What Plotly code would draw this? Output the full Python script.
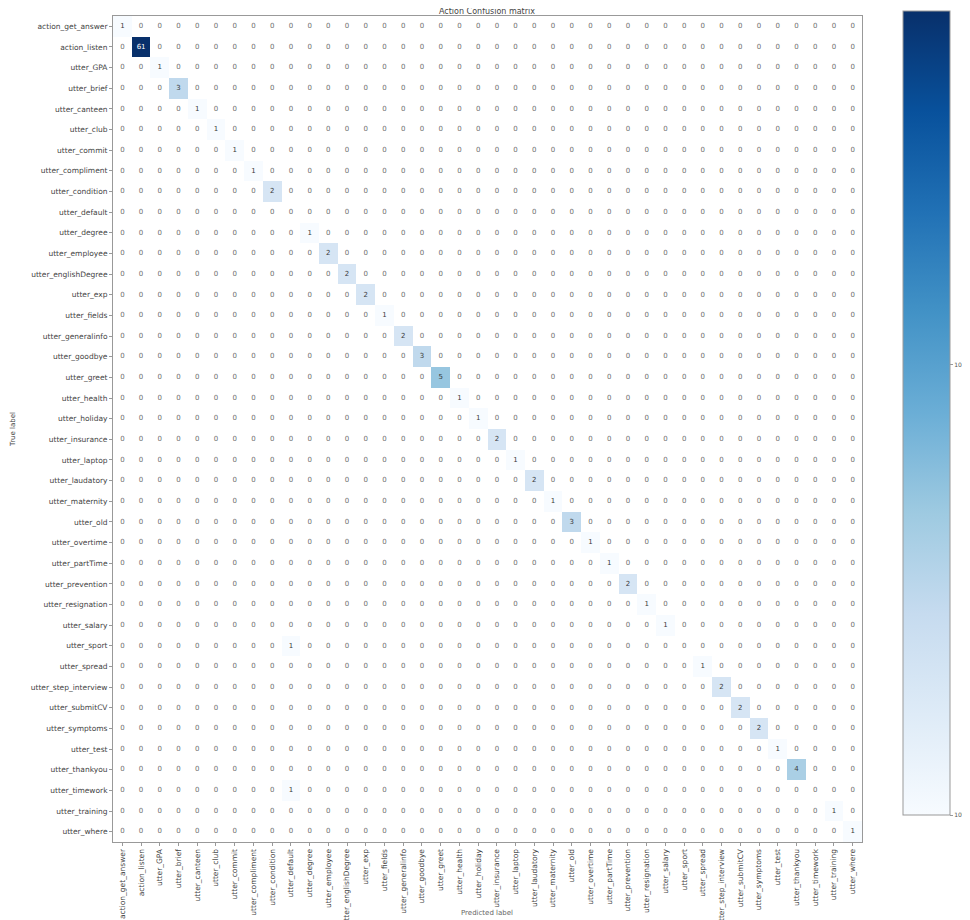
import math
import plotly.graph_objects as go

labels = [
    "action_get_answer", "action_listen", "utter_GPA", "utter_brief", "utter_canteen",
    "utter_club", "utter_commit", "utter_compliment", "utter_condition", "utter_default",
    "utter_degree", "utter_employee", "utter_englishDegree", "utter_exp", "utter_fields",
    "utter_generalinfo", "utter_goodbye", "utter_greet", "utter_health", "utter_holiday",
    "utter_insurance", "utter_laptop", "utter_laudatory", "utter_maternity", "utter_old",
    "utter_overtime", "utter_partTime", "utter_prevention", "utter_resignation", "utter_salary",
    "utter_sport", "utter_spread", "utter_step_interview", "utter_submitCV", "utter_symptoms",
    "utter_test", "utter_thankyou", "utter_timework", "utter_training", "utter_where",
]

# diagonal counts (true == predicted), in label order
diagonal = [1, 61, 1, 3, 1, 1, 1, 1, 2, 0,
            1, 2, 2, 2, 1, 2, 3, 5, 1, 1,
            2, 1, 2, 1, 3, 1, 1, 2, 1, 1,
            0, 1, 2, 2, 2, 1, 4, 0, 1, 1]

# off-diagonal counts: (true label, predicted label, count)
off_diagonal = [
    ("utter_sport", "utter_default", 1),
    ("utter_timework", "utter_default", 1),
]

colorbar_ticks = [0, 1]
colorbar_ticktext = ["10<sup>0</sup>", "10<sup>1</sup>"]

n = len(labels)
cm = [[0] * n for _ in range(n)]
for i, v in enumerate(diagonal):
    cm[i][i] = v
for t, p, v in off_diagonal:
    cm[labels.index(t)][labels.index(p)] = v

vmax = max(max(r) for r in cm)
z = [[(math.log10(v) if v > 0 else None) for v in row] for row in cm]

blues = [
    [0.0, "#f7fbff"], [0.125, "#deebf7"], [0.25, "#c6dbef"], [0.375, "#9ecae1"],
    [0.5, "#6baed6"], [0.625, "#4292c6"], [0.75, "#2171b5"], [0.875, "#08519c"],
    [1.0, "#08306b"],
]

W, H = 962, 912
L, R, T, B = 105, 108, 8, 78
pw, ph = W - L - R, H - T - B

fig = go.Figure()
fig.add_trace(go.Heatmap(
    z=z, x=labels, y=labels,
    colorscale=blues, zmin=0, zmax=math.log10(vmax),
    hoverinfo="skip",
    colorbar=dict(
        x=(895 - L) / pw, xanchor="left", xpad=0,
        y=(H - B - 807) / ph, yanchor="bottom", ypad=0,
        len=804 / ph, lenmode="fraction", thickness=47,
        outlinecolor="#999999", outlinewidth=1,
        tickvals=colorbar_ticks, ticktext=colorbar_ticktext,
        ticks="outside", ticklen=3, tickcolor="#999999",
        tickfont=dict(size=6, color="#555555", family="DejaVu Sans"),
    ),
))

thresh = vmax / 2
groups = {"white": ([], [], []), "#3a3a3a": ([], [], []), "#6e6e6e": ([], [], [])}
for i in range(n):
    for j in range(n):
        v = cm[i][j]
        col = "white" if v > thresh else ("#3a3a3a" if v > 0 else "#6e6e6e")
        gx, gy, gt = groups[col]
        gx.append(labels[j])
        gy.append(labels[i])
        gt.append(str(v))

for col, (gx, gy, gt) in groups.items():
    fig.add_trace(go.Scatter(
        x=gx, y=gy, text=gt, mode="text",
        textfont=dict(size=7, color=col, family="DejaVu Sans"),
        hoverinfo="skip", showlegend=False,
    ))

axis_common = dict(
    showgrid=False, zeroline=False,
    showline=True, linecolor="#999999", linewidth=1, mirror=True,
    ticks="outside", ticklen=3, tickcolor="#999999",
    tickfont=dict(size=7.5, color="#444444", family="DejaVu Sans"),
    type="category", automargin=False,
)

fig.update_layout(
    width=W, height=H,
    margin=dict(l=L, r=R, t=T, b=B, autoexpand=False),
    paper_bgcolor="white", plot_bgcolor="white",
    title=dict(text="Action Confusion matrix", x=(479 - L) / pw, xref="paper", xanchor="center",
               y=1 - 3.5 / H, yanchor="middle",
               font=dict(size=8, color="#444444", family="DejaVu Sans")),
    xaxis=dict(**axis_common, tickangle=-90, range=[-0.5, n - 0.5], autorange=False),
    yaxis=dict(**axis_common, range=[n - 0.5, -0.5], autorange=False,
               title=dict(text="True label", standoff=14,
                          font=dict(size=7, color="#444444", family="DejaVu Sans"))),
    showlegend=False,
    annotations=[dict(text="Predicted label", xref="paper", yref="paper",
                      x=(479 - L) / pw, y=-(905 - (H - B)) / ph, xanchor="center", yanchor="middle",
                      showarrow=False,
                      font=dict(size=7, color="#666666", family="DejaVu Sans"))],
)

fig.write_html("out.html")
